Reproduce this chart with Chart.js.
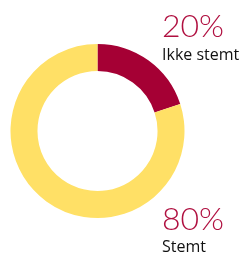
<!DOCTYPE html>
<html><head><meta charset="utf-8">
<script src="https://cdn.jsdelivr.net/npm/chart.js@4/dist/chart.umd.min.js"></script>
<style>html,body{margin:0;padding:0;background:#fff;}#wrap{position:relative;width:245px;height:254px;}</style>
</head><body><div id="wrap"><canvas id="c" width="245" height="254"></canvas></div>
<script>
const categories = ["Ikke stemt", "Stemt"];
const values = [20, 80];
const pctLabels = ["20%", "80%"];
const colors = ["#A50034", "#FFE066"];

const labelPlugin = {
  id: 'sideLabels',
  afterDraw(chart) {
    const ctx = chart.ctx;
    const pos = [[162, 37, 60], [162, 230, 252]];
    ctx.save();
    ctx.textAlign = 'left';
    ctx.textBaseline = 'alphabetic';
    for (let i = 0; i < categories.length; i++) {
      ctx.fillStyle = '#B01040';
      ctx.font = '300 32px Lato, "Open Sans", sans-serif';
      ctx.fillText(pctLabels[i], pos[i][0], pos[i][1]);
      ctx.fillStyle = '#111';
      ctx.font = '400 16px "Open Sans", Lato, sans-serif';
      ctx.fillText(categories[i], pos[i][0], pos[i][2]);
    }
    ctx.restore();
  }
};

new Chart(document.getElementById('c'), {
  type: 'doughnut',
  data: { labels: categories, datasets: [{ data: values, backgroundColor: colors, borderWidth: 0 }] },
  options: {
    responsive: false, animation: false, cutout: '69%',
    layout: { padding: { left: 10, right: 60, top: 44, bottom: 36 } },
    plugins: { legend: { display: false }, tooltip: { enabled: false } }
  },
  plugins: [labelPlugin]
});
</script></body></html>
